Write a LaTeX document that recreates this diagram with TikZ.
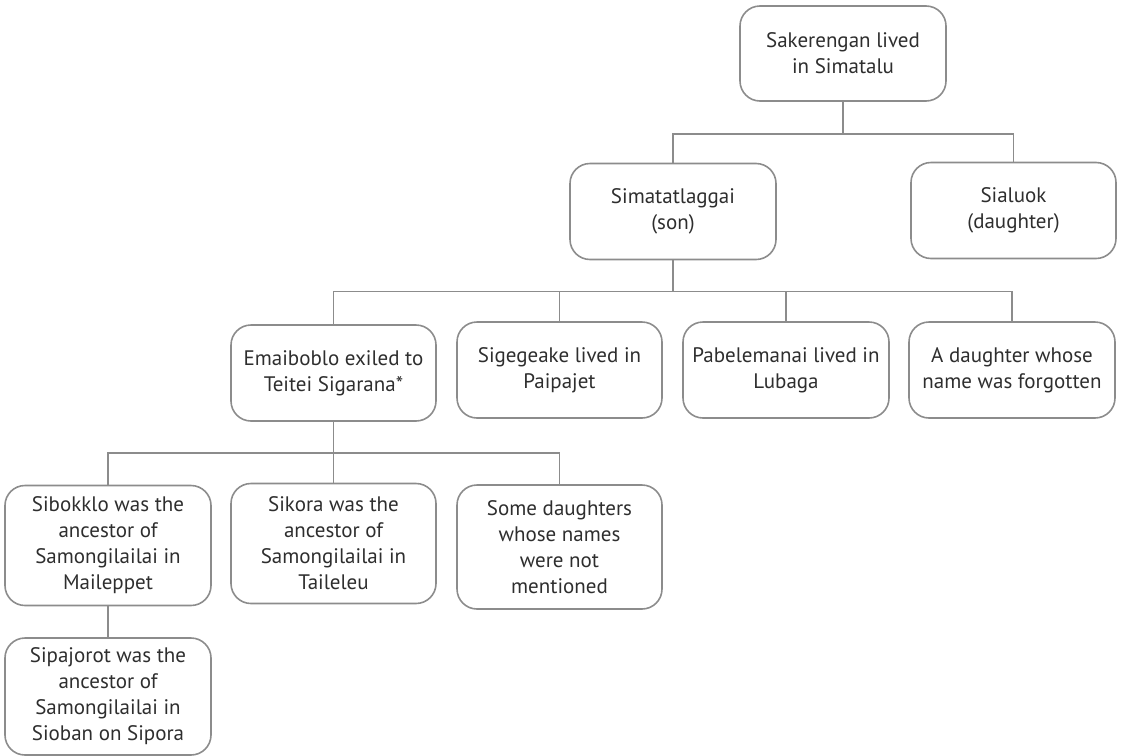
\documentclass[tikz,border=0pt]{standalone}
\usepackage{fontspec}
\setmainfont{PT Sans}
\definecolor{boxgray}{HTML}{8C8C8C}
\definecolor{txtgray}{HTML}{2E2E2E}
\begin{document}
\begin{tikzpicture}[x=1pt,y=-1pt,
    person/.style={draw=boxgray, line width=1.6pt, rounded corners=20pt, align=center,
      minimum width=206pt, minimum height=96pt, text=txtgray,
      font=\fontsize{21}{26}\selectfont},
    tall/.style={person, minimum height=120pt},
    link/.style={draw=boxgray, line width=1.6pt}]
  \useasboundingbox (0,0) rectangle (1121,755);
  %first generation
    \node[person, minimum height=95pt] (sak) at (843,53.5) {Sakerengan lived\\in Simatalu};
  %children
    \node[person] (simat) at (673,211.5) {Simatatlaggai\\(son)};
    \node[person, minimum width=205pt] (sialuok) at (1013.5,210.5) {Sialuok\\(daughter)};
    \draw[link] (sak.south) -- ++(0,32) -| (simat.north);
    \draw[link] (sak.south) -- ++(0,32) -| (sialuok.north);
  %grandchildren
    \node[person, minimum width=205pt] (emai) at (333.5,373) {Emaiboblo exiled to\\Teitei Sigarana*};
    \node[person, minimum width=205pt] (sige) at (559.5,370) {Sigegeake lived in\\Paipajet};
    \node[person] (pabe) at (786,370) {Pabelemanai lived in\\Lubaga};
    \node[person] (dau) at (1012,370) {A daughter whose\\name was forgotten};
    \foreach \n in {emai,sige,pabe,dau}
    \draw[link] (simat.south) -- ++(0,31) -| (\n.north);
  %great-grandchildren
    \node[tall] (sibo) at (108,545.5) {Sibokklo was the\\ancestor of\\Samongilailai in\\Maileppet};
    \node[tall, minimum width=205pt] (siko) at (333.5,543.5) {Sikora was the\\ancestor of\\Samongilailai in\\Taileleu};
    \node[tall, minimum width=205pt, minimum height=124pt] (some) at (559.5,547) {Some daughters\\whose names\\were not\\mentioned};
    \foreach \n in {sibo,siko,some}
    \draw[link] (emai.south) -- ++(0,31) -| (\n.north);
    \node[tall, minimum height=117pt] (sipa) at (108,696.5) {Sipajorot was the\\ancestor of\\Samongilailai in\\Sioban on Sipora};
    \draw[link] (sibo.south) -- (sipa.north);
\end{tikzpicture}
\end{document}
